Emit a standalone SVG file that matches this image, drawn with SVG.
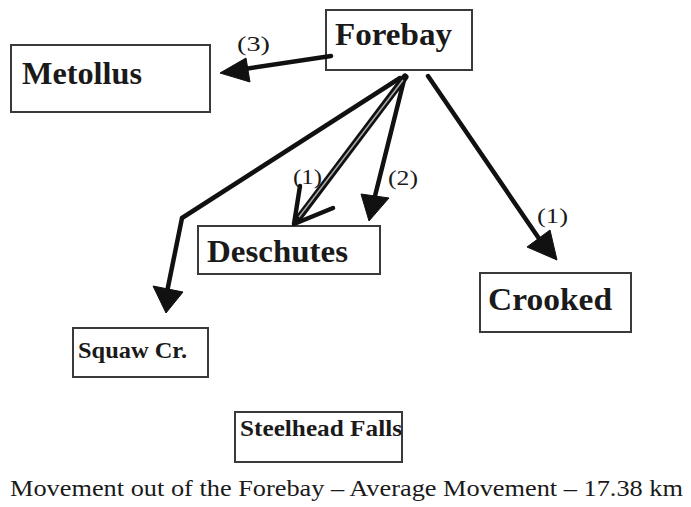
<svg xmlns="http://www.w3.org/2000/svg" width="691" height="507" viewBox="0 0 691 507">
<defs>
<style>
.box{fill:#fff;stroke:#3a3a3a;stroke-width:2}
.nt{font-family:"Liberation Serif",serif;font-weight:bold;fill:#1a1a1a}
.lbl{font-family:"Liberation Serif",serif;font-size:22px;fill:#1a1a1a}
.ln{fill:none;stroke:#111;stroke-width:4.5;stroke-linecap:round;stroke-linejoin:round}
.hd{fill:#111;stroke:#111;stroke-width:1;stroke-linejoin:round}
</style>
</defs>
<rect width="691" height="507" fill="#fff"/>
<g id="forebay"><rect class="box" x="326" y="10" width="146" height="60"/><text class="nt" x="335" y="45" font-size="32" textLength="117" lengthAdjust="spacingAndGlyphs">Forebay</text></g>
<g id="metollus"><rect class="box" x="11" y="45" width="199" height="67"/><text class="nt" x="22" y="84" font-size="32" textLength="120" lengthAdjust="spacingAndGlyphs">Metollus</text></g>
<g id="deschutes"><rect class="box" x="198" y="226" width="182" height="48"/><text class="nt" x="207" y="262" font-size="31" textLength="141" lengthAdjust="spacingAndGlyphs">Deschutes</text></g>
<g id="crooked"><rect class="box" x="480" y="273" width="151" height="59"/><text class="nt" x="488" y="310" font-size="32" textLength="124" lengthAdjust="spacingAndGlyphs">Crooked</text></g>
<g id="squaw"><rect class="box" x="73" y="328" width="135" height="49"/><text class="nt" x="78" y="358" font-size="23" textLength="109" lengthAdjust="spacingAndGlyphs">Squaw Cr.</text></g>
<g id="steelhead"><rect class="box" x="235" y="412" width="167" height="50"/><text class="nt" x="240" y="436" font-size="23" textLength="162" lengthAdjust="spacingAndGlyphs">Steelhead Falls</text></g>
<g id="connectors">
<line class="ln" x1="331" y1="56" x2="238" y2="70"/>
<polygon class="hd" points="220,73 246,58 250,82"/>
<polyline class="ln" points="400,78 182,218 167,292"/>
<polygon class="hd" points="166,313 153,286 183,292"/>
<line class="ln" x1="405" y1="76" x2="374" y2="200"/>
<polygon class="hd" points="369,221 361,194 389,198"/>
<line class="ln" x1="428" y1="76" x2="540" y2="240"/>
<polygon class="hd" points="557,260 527,247 550,230"/>
<line x1="405" y1="77" x2="298" y2="219" stroke="#111" stroke-width="7" stroke-linecap="round"/>
<line x1="403" y1="80" x2="299" y2="217" stroke="#aaa" stroke-width="1.5"/>
<polyline class="ln" points="300,186 294,224 333,208" stroke-width="6"/>
<text class="lbl" x="237" y="51" textLength="33" lengthAdjust="spacingAndGlyphs">(3)</text>
<text class="lbl" x="293" y="184" textLength="29" lengthAdjust="spacingAndGlyphs">(1)</text>
<text class="lbl" x="388" y="185" textLength="30" lengthAdjust="spacingAndGlyphs">(2)</text>
<text class="lbl" x="537" y="223" textLength="31" lengthAdjust="spacingAndGlyphs">(1)</text>
</g>
<text x="10" y="496" font-family="Liberation Serif,serif" font-size="24" fill="#1a1a1a" textLength="673" lengthAdjust="spacingAndGlyphs">Movement out of the Forebay – Average Movement – 17.38 km</text>
</svg>
